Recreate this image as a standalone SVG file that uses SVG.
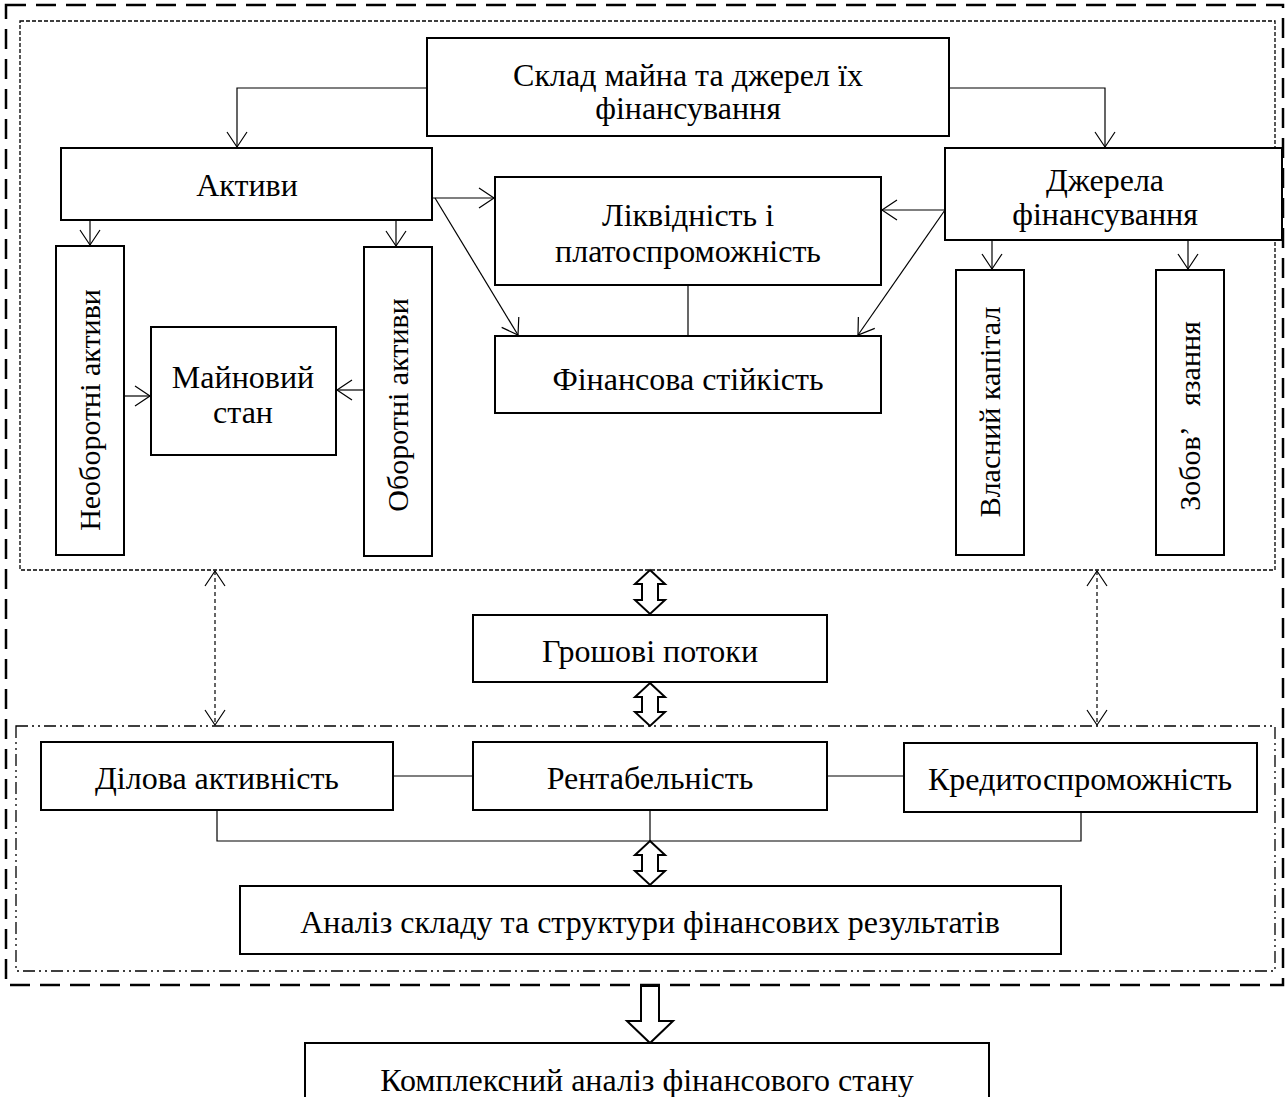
<svg xmlns="http://www.w3.org/2000/svg" width="1286" height="1097" viewBox="0 0 1286 1097">
<style>
.box{fill:#fff;stroke:#000;stroke-width:2}
.t{font-family:"Liberation Serif","Times New Roman",serif;font-size:32px;fill:#000;text-anchor:middle}
.v{font-size:30px}
.ln{fill:none;stroke:#000;stroke-width:1.2}
.dl{fill:none;stroke:#000;stroke-width:1.2;stroke-dasharray:4 3}
.ha{fill:#fff;stroke:#000;stroke-width:2;stroke-linejoin:miter}
</style>
<defs>
<marker id="ah" markerUnits="userSpaceOnUse" markerWidth="18" markerHeight="22" refX="16" refY="11" orient="auto-start-reverse" viewBox="0 0 18 22">
<path d="M1,1 L16,11 L1,21" fill="none" stroke="#000" stroke-width="1.2"/>
</marker>
<clipPath id="zclip"><rect x="1150" y="270" width="80" height="242"/></clipPath>
</defs>
<rect x="0" y="0" width="1286" height="1097" fill="#fff"/>
<g id="frames">
<rect x="6" y="5" width="1277" height="980" fill="none" stroke="#000" stroke-width="2.5" stroke-dasharray="20 10"/>
<rect x="20" y="21" width="1255" height="549" fill="none" stroke="#000" stroke-width="1.3" stroke-dasharray="4 2"/>
<rect x="16" y="726" width="1259" height="245" fill="none" stroke="#000" stroke-width="1.3" stroke-dasharray="12 4 2 4 2 4"/>
</g>
<g id="connectors">
<polyline class="ln" points="427,88 237,88 237,147" marker-end="url(#ah)"/>
<polyline class="ln" points="949,88 1105,88 1105,147" marker-end="url(#ah)"/>
<line class="ln" x1="90" y1="220" x2="90" y2="245" marker-end="url(#ah)"/>
<line class="ln" x1="396" y1="220" x2="396" y2="246" marker-end="url(#ah)"/>
<line class="ln" x1="124" y1="396" x2="150" y2="396" marker-end="url(#ah)"/>
<line class="ln" x1="363" y1="390" x2="337" y2="390" marker-end="url(#ah)"/>
<line class="ln" x1="433" y1="198" x2="494" y2="198" marker-end="url(#ah)"/>
<line class="ln" x1="435" y1="198" x2="518" y2="335" marker-end="url(#ah)"/>
<line class="ln" x1="945" y1="210" x2="882" y2="210" marker-end="url(#ah)"/>
<line class="ln" x1="945" y1="210" x2="858" y2="335" marker-end="url(#ah)"/>
<line class="ln" x1="688" y1="285" x2="688" y2="336"/>
<line class="ln" x1="992" y1="240" x2="992" y2="269" marker-end="url(#ah)"/>
<line class="ln" x1="1188" y1="240" x2="1188" y2="269" marker-end="url(#ah)"/>
<line class="dl" x1="215" y1="571" x2="215" y2="725" marker-start="url(#ah)" marker-end="url(#ah)"/>
<line class="dl" x1="1097" y1="571" x2="1097" y2="725" marker-start="url(#ah)" marker-end="url(#ah)"/>
<line class="ln" x1="393" y1="776" x2="473" y2="776"/>
<line class="ln" x1="827" y1="776" x2="904" y2="776"/>
<polyline class="ln" points="217,810 217,841 1081,841 1081,812"/>
<line class="ln" x1="650" y1="810" x2="650" y2="841"/>
<path class="ha" d="M650,570 L665,584 L658,584 L658,600 L665,600 L650,614 L635,600 L642,600 L642,584 L635,584 Z"/>
<path class="ha" d="M650,683 L665,697 L658,697 L658,712 L665,712 L650,726 L635,712 L642,712 L642,697 L635,697 Z"/>
<path class="ha" d="M650,841 L665,855 L658,855 L658,871 L665,871 L650,885 L635,871 L642,871 L642,855 L635,855 Z"/>
<path class="ha" d="M641,986 L659,986 L659,1021 L673,1021 L650,1043 L627,1021 L641,1021 Z"/>
</g>
<g id="n-sklad"><rect class="box" x="427" y="38" width="522" height="98"/><text class="t" x="688" y="86">Склад майна та джерел їх</text><text class="t" x="688" y="119">фінансування</text></g>
<g id="n-aktyvy"><rect class="box" x="61" y="148" width="371" height="72"/><text class="t" x="247" y="196">Активи</text></g>
<g id="n-dzherela"><rect class="box" x="945" y="148" width="337" height="92"/><text class="t" x="1105" y="191">Джерела</text><text class="t" x="1105" y="225">фінансування</text></g>
<g id="n-likvid"><rect class="box" x="495" y="177" width="386" height="108"/><text class="t" x="688" y="226">Ліквідність і</text><text class="t" x="688" y="262">платоспроможність</text></g>
<g id="n-fin-stiik"><rect class="box" x="495" y="336" width="386" height="77"/><text class="t" x="688" y="390">Фінансова стійкість</text></g>
<g id="n-neoborot"><rect class="box" x="56" y="246" width="68" height="309"/><text class="t v" transform="translate(100,410) rotate(-90)">Необоротні активи</text></g>
<g id="n-oborot"><rect class="box" x="364" y="247" width="68" height="309"/><text class="t v" transform="translate(408,405) rotate(-90)">Оборотні активи</text></g>
<g id="n-mainovyi"><rect class="box" x="151" y="327" width="185" height="128"/><text class="t" x="243" y="388">Майновий</text><text class="t" x="243" y="423">стан</text></g>
<g id="n-vlasnyi"><rect class="box" x="956" y="270" width="68" height="285"/><text class="t v" transform="translate(1000,412) rotate(-90)">Власний капітал</text></g>
<g id="n-zoboviazannia"><rect class="box" x="1156" y="270" width="68" height="285"/><g clip-path="url(#zclip)"><text class="t v" transform="translate(1200,416) rotate(-90)" xml:space="preserve">Зобов’   язання</text></g></g>
<g id="n-groshovi"><rect class="box" x="473" y="615" width="354" height="67"/><text class="t" x="650" y="662">Грошові потоки</text></g>
<g id="n-dilova"><rect class="box" x="41" y="742" width="352" height="68"/><text class="t" x="217" y="789">Ділова активність</text></g>
<g id="n-rentab"><rect class="box" x="473" y="742" width="354" height="68"/><text class="t" x="650" y="789">Рентабельність</text></g>
<g id="n-kredyt"><rect class="box" x="904" y="743" width="353" height="69"/><text class="t" x="1080" y="790">Кредитоспроможність</text></g>
<g id="n-analiz"><rect class="box" x="240" y="886" width="821" height="68"/><text class="t" x="650" y="933">Аналіз складу та структури фінансових результатів</text></g>
<g id="n-kompleks"><rect class="box" x="305" y="1043" width="684" height="70"/><text class="t" x="647" y="1091">Комплексний аналіз фінансового стану</text></g>
</svg>
